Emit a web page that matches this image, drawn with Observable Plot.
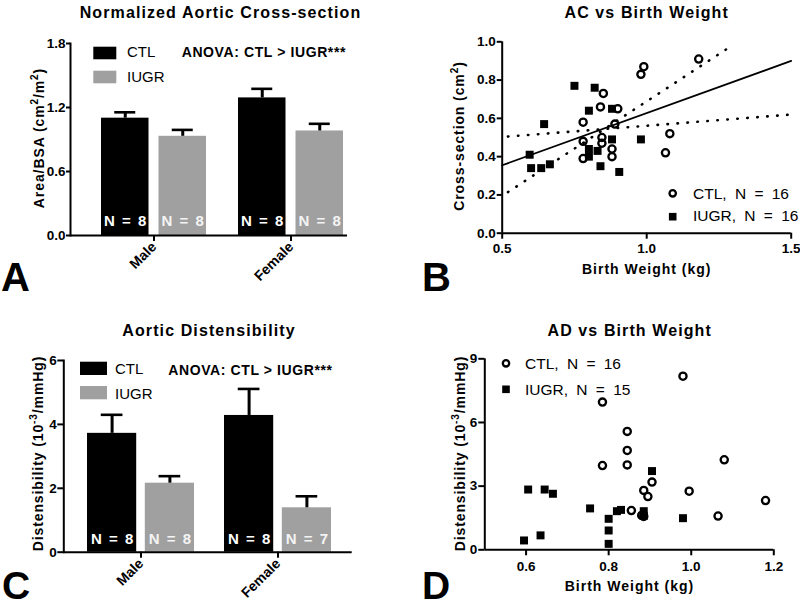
<!DOCTYPE html>
<html><head><meta charset="utf-8">
<script src="https://cdn.jsdelivr.net/npm/d3@7"></script>
<script src="https://cdn.jsdelivr.net/npm/@observablehq/plot@0.6"></script>
<style>
html,body{margin:0;padding:0;background:#fff;}
#root{position:relative;width:800px;height:608px;overflow:hidden;background:#fff;}
</style></head><body><div id="root"></div>
<script>
const FONT = '"Liberation Sans", Arial, Helvetica, sans-serif';
const GREY = "#a0a0a0";

// ---- Panel A: Normalized Aortic Cross-section ----
const sexes = ["Male", "Female"];
const acCtlMean = [1.10, 1.29];
const acCtlSem = [0.055, 0.085];
const acCtlN = [8, 8];
const acIugrMean = [0.93, 0.98];
const acIugrSem = [0.06, 0.067];
const acIugrN = [8, 8];
const acTicks = [0, 0.6, 1.2, 1.8];

// ---- Panel C: Aortic Distensibility ----
const adCtlMean = [3.72, 4.28];
const adCtlSem = [0.58, 0.83];
const adCtlN = [8, 8];
const adIugrMean = [2.16, 1.39];
const adIugrSem = [0.22, 0.36];
const adIugrN = [8, 7];
const adTicks = [0, 2, 4, 6];

// ---- Panel B: AC vs Birth Weight ----
const bCtlWeight = [0.78, 0.78, 0.78, 0.84, 0.85, 0.845, 0.845, 0.88, 0.88, 0.89, 0.90, 0.98, 0.99, 1.065, 1.08, 1.18];
const bCtlArea   = [0.58, 0.48, 0.39, 0.66, 0.73, 0.50, 0.47, 0.44, 0.40, 0.57, 0.65, 0.83, 0.87, 0.42, 0.52, 0.91];
const bIugrWeight = [0.595, 0.60, 0.635, 0.665, 0.645, 0.75, 0.82, 0.80, 0.88, 0.88, 0.80, 0.83, 0.80, 0.84, 0.905, 0.98];
const bIugrArea   = [0.41, 0.34, 0.34, 0.36, 0.57, 0.77, 0.76, 0.64, 0.65, 0.49, 0.44, 0.43, 0.40, 0.35, 0.32, 0.49];
const bFitX = [0.5, 1.5];
const bFitY = [0.355, 0.90];
const bDotAX = [0.52, 1.30];
const bDotAY = [0.215, 0.985];
const bDotBX = [0.52, 1.50];
const bDotBY = [0.505, 0.62];
const bXTicks = [0.5, 1.0, 1.5];
const bYTicks = [0, 0.2, 0.4, 0.6, 0.8, 1.0];

// ---- Panel D: AD vs Birth Weight ----
const dCtlWeight = [0.785, 0.785, 0.845, 0.845, 0.845, 0.855, 0.885, 0.895, 0.905, 0.885, 0.98, 0.995, 1.08, 1.065, 1.18, 0.88];
const dCtlDist   = [6.96, 3.97, 5.58, 4.68, 4.0, 1.85, 2.80, 2.51, 3.19, 1.57, 8.18, 2.76, 4.24, 1.59, 2.32, 1.62];
const dIugrWeight = [0.595, 0.605, 0.635, 0.645, 0.665, 0.755, 0.80, 0.80, 0.80, 0.82, 0.83, 0.885, 0.905, 0.98, 0.885];
const dIugrDist   = [0.44, 2.84, 0.68, 2.84, 2.64, 1.95, 1.46, 0.91, 0.28, 1.82, 1.88, 1.82, 3.71, 1.49, 1.60];
const dXTicks = [0.6, 0.8, 1.0, 1.2];
const dYTicks = [0, 3, 6, 9];

const root = document.getElementById("root");

function baseStyle(left, top) {
  return {position: "absolute", left: left + "px", top: top + "px", fontFamily: FONT,
    fontSize: "13.5px", fontWeight: "bold", wordSpacing: "3px", overflow: "visible",
    background: "transparent", color: "#000", maxWidth: "none"};
}

function barPanel(o) {
  const ctl = sexes.map((s, i) => ({sex: s, mean: o.ctlMean[i], sem: o.ctlSem[i], n: o.ctlN[i]}));
  const iugr = sexes.map((s, i) => ({sex: s, mean: o.iugrMean[i], sem: o.iugrSem[i], n: o.iugrN[i]}));
  const inset = o.pair - o.barW;
  const off = o.pair / 2 - o.barW / 2;
  const capIn = o.barW / 2 - o.capW / 2;
  const top = d => d.mean + d.sem;
  return Plot.plot({
    width: o.W, height: o.H, marginLeft: o.ml, marginRight: o.mr, marginTop: o.mt, marginBottom: o.mb,
    style: baseStyle(o.left, o.top),
    x: {type: "band", domain: sexes, paddingInner: o.pi, paddingOuter: o.po, align: o.align},
    y: {domain: [o.ticks[0], o.ticks[o.ticks.length - 1]]},
    marks: [
      Plot.barY(ctl, {x: "sex", y: "mean", fill: "#000", insetRight: inset}),
      Plot.barY(iugr, {x: "sex", y: "mean", fill: GREY, insetLeft: inset}),
      Plot.ruleX(ctl, {x: "sex", y1: "mean", y2: top, dx: -off, strokeWidth: 3}),
      Plot.ruleX(iugr, {x: "sex", y1: "mean", y2: top, dx: off, strokeWidth: 3}),
      Plot.tickY(ctl, {x: "sex", y: top, insetLeft: capIn, insetRight: inset + capIn, strokeWidth: 2.6}),
      Plot.tickY(iugr, {x: "sex", y: top, insetLeft: inset + capIn, insetRight: capIn, strokeWidth: 2.6}),
      Plot.text(ctl, {x: "sex", y: 0, text: d => `N = ${d.n}`, dx: -off, dy: o.nDy, fill: "#fff", fontSize: 15}),
      Plot.text(iugr, {x: "sex", y: 0, text: d => `N = ${d.n}`, dx: off, dy: o.nDy, fill: "#f4f4f4", fontSize: 15}),
      Plot.frame({anchor: "left", strokeWidth: 2}),
      Plot.ruleY([0], {strokeWidth: 2}),
      Plot.axisY({ticks: o.ticks, tickFormat: o.fmt, tickSize: o.tickSize, tickPadding: 1, strokeWidth: 2, label: null}),
      Plot.axisX({tickRotate: -45, tickSize: 6, tickPadding: 3, strokeWidth: 2, label: null, fontSize: 14})
    ]
  });
}

function scatterPanel(o) {
  const ctl = o.ctlX.map((x, i) => ({x, y: o.ctlY[i]}));
  const iugr = o.iugrX.map((x, i) => ({x, y: o.iugrY[i]}));
  const lines = (o.lines || []).map(l => Plot.line(l.x, {x: l.x, y: l.y, stroke: "#000",
    strokeWidth: l.dotted ? 2.6 : 1.8, strokeDasharray: l.dotted ? "0.5,9.5" : null, strokeLinecap: "round"}));
  return Plot.plot({
    width: o.W, height: o.H, marginLeft: o.ml, marginRight: o.mr, marginTop: o.mt, marginBottom: o.mb,
    style: baseStyle(o.left, o.top),
    x: {domain: o.xDomain},
    y: {domain: [o.yTicks[0], o.yTicks[o.yTicks.length - 1]]},
    marks: [
      ...lines,
      Plot.dot(ctl, {x: "x", y: "y", r: 3.6, stroke: "#000", strokeWidth: 2.3, fill: "none"}),
      Plot.dot(iugr, {x: "x", y: "y", symbol: "square", r: 4.5, fill: "#000", stroke: "none"}),
      Plot.ruleX([o.xDomain[0]], {strokeWidth: 2}),
      Plot.ruleY([o.yTicks[0]], {strokeWidth: 2}),
      Plot.axisY({ticks: o.yTicks, tickFormat: o.yFmt, tickSize: o.tickSize, tickPadding: 1.5, strokeWidth: 2, label: null}),
      Plot.axisX({ticks: o.xTicks, tickFormat: ".1f", tickSize: 6, tickPadding: o.xPad, strokeWidth: 2, label: null})
    ]
  });
}

root.appendChild(barPanel({
  left: 0, top: 0, W: 400, H: 300, ml: 70, mr: 53, mt: 43, mb: 65,
  pi: 0.232, po: 0.12, align: 0.88, pair: 106, barW: 48.5, capW: 22, nDy: -14, tickSize: 4,
  ctlMean: acCtlMean, ctlSem: acCtlSem, ctlN: acCtlN, iugrMean: acIugrMean, iugrSem: acIugrSem, iugrN: acIugrN,
  ticks: acTicks, fmt: d => d.toFixed(1)
}));

root.appendChild(barPanel({
  left: 0, top: 300, W: 400, H: 308, ml: 63.3, mr: 48.3, mt: 60, mb: 56.3,
  pi: 0.2213, po: 0.1571, align: 0.524, pair: 107.3, barW: 49.5, capW: 22, nDy: -12.7, tickSize: 6,
  ctlMean: adCtlMean, ctlSem: adCtlSem, ctlN: adCtlN, iugrMean: adIugrMean, iugrSem: adIugrSem, iugrN: adIugrN,
  ticks: adTicks, fmt: d => d.toFixed(0)
}));

root.appendChild(scatterPanel({
  left: 400, top: 0, W: 400, H: 300, ml: 101.7, mr: 9.3, mt: 41.3, mb: 67.3,
  xDomain: [0.5, 1.5], xTicks: bXTicks, yTicks: bYTicks, yFmt: d => d.toFixed(1), tickSize: 5, xPad: 4,
  ctlX: bCtlWeight, ctlY: bCtlArea, iugrX: bIugrWeight, iugrY: bIugrArea,
  lines: [{x: bFitX, y: bFitY}, {x: bDotAX, y: bDotAY, dotted: true}, {x: bDotBX, y: bDotBY, dotted: true}]
}));

root.appendChild(scatterPanel({
  left: 400, top: 300, W: 400, H: 308, ml: 84.3, mr: 26.7, mt: 58.3, mb: 58.7,
  xDomain: [0.5, 1.2], xTicks: dXTicks, yTicks: dYTicks, yFmt: d => d.toFixed(0), tickSize: 6, xPad: 6,
  ctlX: dCtlWeight, ctlY: dCtlDist, iugrX: dIugrWeight, iugrY: dIugrDist
}));

// ---- overlay: titles, axis titles, legends, panel letters ----
const sup = (t) => `<tspan font-size="10" dy="-6">${t}</tspan><tspan dy="6">`;
const titles = [
  ["Normalized Aortic Cross-section", 220.5, 18.3],
  ["AC vs Birth Weight", 646.7, 18.3],
  ["Aortic Distensibility", 209, 336],
  ["AD vs Birth Weight", 629.7, 336]
];
const yLabels = [
  [`Area/BSA (cm${sup("2")}/m${sup("2")})</tspan></tspan>`, 44, 138],
  [`Cross-section (cm${sup("2")})</tspan>`, 464, 136],
  [`Distensibility (10${sup("-3")}/mmHg)</tspan>`, 43, 453.5],
  [`Distensibility (10${sup("-3")}/mmHg)</tspan>`, 465, 453.5]
];
const xLabels = [
  ["Birth Weight (kg)", 646.7, 274],
  ["Birth Weight (kg)", 629.5, 590.5]
];
const letters = [["A", 1, 291, 40], ["B", 422, 290.7, 40], ["C", 2, 598.5, 39], ["D", 422, 598.5, 39]];

let s = `<svg xmlns="http://www.w3.org/2000/svg" width="800" height="608" style="position:absolute;left:0;top:0;overflow:visible;font-family:${FONT.replace(/"/g, "'")}">`;
for (const [t, x, y] of titles) s += `<text x="${x}" y="${y}" text-anchor="middle" font-size="16" font-weight="bold" letter-spacing="1.1">${t}</text>`;
for (const [t, x, y] of yLabels) s += `<text transform="translate(${x},${y}) rotate(-90)" text-anchor="middle" font-size="14" font-weight="bold" letter-spacing="0.9">${t}</text>`;
for (const [t, x, y] of xLabels) s += `<text x="${x}" y="${y}" text-anchor="middle" font-size="14" font-weight="bold" letter-spacing="1">${t}</text>`;
for (const [t, x, y, fs] of letters) s += `<text x="${x}" y="${y}" font-size="${fs}" font-weight="bold">${t}</text>`;
// bar legends
const barLegends = [
  {x: 93.3, y1: 46.7, y2: 70.7, w: 23, h: 12.6, tx: 127, b1: 57.3, b2: 82.3, ax: 181.7, ab: 56.7},
  {x: 80, y1: 361.7, y2: 386, w: 27, h: 13.3, tx: 115, b1: 374, b2: 399, ax: 168.3, ab: 375}
];
for (const L of barLegends) {
  s += `<rect x="${L.x}" y="${L.y1}" width="${L.w}" height="${L.h}" fill="#000"/>`;
  s += `<rect x="${L.x}" y="${L.y2}" width="${L.w}" height="${L.h}" fill="${GREY}"/>`;
  s += `<text x="${L.tx}" y="${L.b1}" font-size="15">CTL</text>`;
  s += `<text x="${L.tx}" y="${L.b2}" font-size="15">IUGR</text>`;
  s += `<text x="${L.ax}" y="${L.ab}" font-size="14" font-weight="bold" letter-spacing="0.6">ANOVA: CTL &gt; IUGR***</text>`;
}
const scLegends = [
  {cx: 672.7, c1: 193.3, c2: 216.7, tx: 693, b1: 199.3, b2: 221, t1: "CTL, N = 16", t2: "IUGR, N = 16"},
  {cx: 506, c1: 363.3, c2: 389.3, tx: 525, b1: 368.5, b2: 395, t1: "CTL, N = 16", t2: "IUGR, N = 15"}
];
for (const L of scLegends) {
  s += `<circle cx="${L.cx}" cy="${L.c1}" r="3.2" fill="none" stroke="#000" stroke-width="2.3"/>`;
  s += `<rect x="${L.cx - 3.8}" y="${L.c2 - 3.8}" width="7.6" height="7.6" fill="#000"/>`;
  s += `<text x="${L.tx}" y="${L.b1}" font-size="15.5" word-spacing="4">${L.t1}</text>`;
  s += `<text x="${L.tx}" y="${L.b2}" font-size="15.5" word-spacing="4">${L.t2}</text>`;
}
s += `</svg>`;
root.insertAdjacentHTML("beforeend", s);
</script>
</body></html>
